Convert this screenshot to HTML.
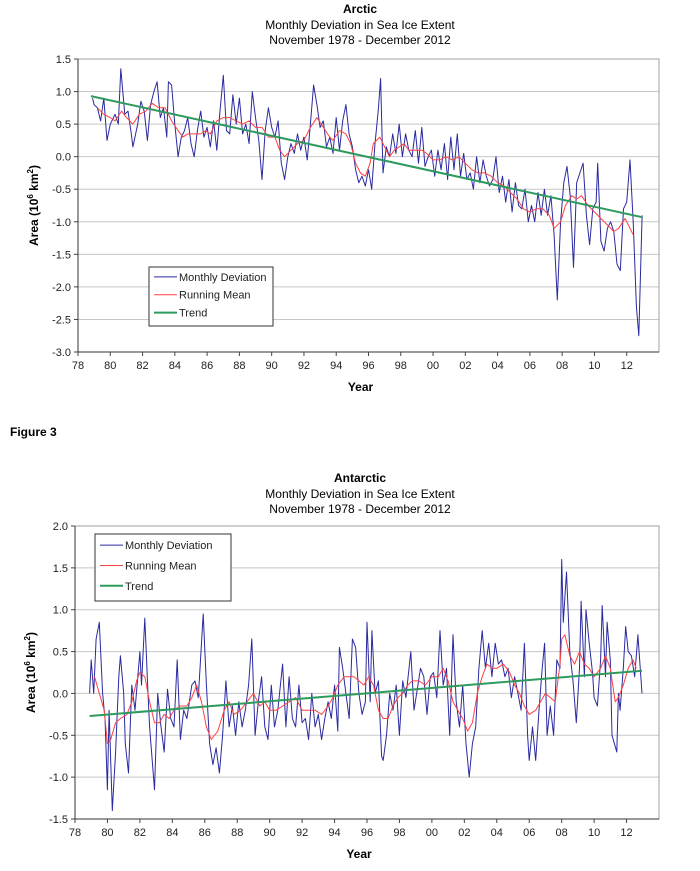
<!DOCTYPE html>
<html><head><meta charset="utf-8"><style>
html,body{margin:0;padding:0;background:#fff;}
svg{display:block;font-family:"Liberation Sans",Arial,sans-serif;}
</style></head><body>
<svg id="svg" width="700" height="871" viewBox="0 0 700 871"></svg>
<script>
// ---- Arctic data (years since 1900) ----
const arcticMonthlyYears=[78.9,79.0,79.2,79.4,79.6,79.8,80.0,80.3,80.5,80.65,80.9,81.1,81.3,81.4,81.7,81.9,82.1,82.3,82.5,82.7,82.9,83.1,83.3,83.5,83.6,83.8,84.0,84.2,84.4,84.6,84.8,85.0,85.2,85.4,85.6,85.8,86.0,86.2,86.4,86.6,86.8,87.0,87.2,87.4,87.6,87.8,88.0,88.2,88.4,88.6,88.8,89.0,89.2,89.4,89.6,89.8,90.0,90.2,90.4,90.6,90.8,91.0,91.2,91.4,91.6,91.8,92.0,92.2,92.4,92.6,92.8,93.0,93.2,93.4,93.6,93.8,94.0,94.2,94.4,94.6,94.8,95.0,95.2,95.4,95.6,95.8,96.0,96.2,96.4,96.6,96.75,96.9,97.1,97.3,97.5,97.7,97.9,98.1,98.3,98.5,98.7,98.9,99.1,99.3,99.5,99.7,99.9,100.1,100.3,100.5,100.7,100.9,101.1,101.3,101.5,101.7,101.9,102.1,102.3,102.5,102.7,102.9,103.1,103.3,103.5,103.7,103.9,104.1,104.3,104.5,104.7,104.9,105.1,105.3,105.5,105.7,105.9,106.1,106.3,106.5,106.7,106.9,107.1,107.3,107.5,107.7,107.9,108.1,108.3,108.5,108.7,108.9,109.1,109.3,109.5,109.7,109.9,110.1,110.2,110.4,110.6,110.8,111.0,111.2,111.4,111.6,111.8,112.0,112.2,112.4,112.6,112.75,112.95];
const arcticMonthlyValues=[0.9,0.8,0.75,0.55,0.9,0.25,0.5,0.65,0.5,1.35,0.65,0.7,0.35,0.15,0.5,0.85,0.7,0.25,0.8,1.0,1.15,0.6,0.75,0.3,1.15,1.1,0.5,0.0,0.3,0.4,0.6,0.2,0.0,0.4,0.7,0.3,0.45,0.15,0.55,0.1,0.7,1.25,0.4,0.35,0.95,0.5,0.9,0.35,0.5,0.2,1.0,0.6,0.25,-0.35,0.4,0.75,0.45,0.3,0.55,-0.1,-0.35,0.0,0.2,0.05,0.35,0.1,0.3,-0.05,0.5,1.1,0.8,0.45,0.55,0.15,0.3,0.05,0.6,0.1,0.55,0.8,0.35,0.15,-0.2,-0.4,-0.3,-0.45,-0.2,-0.5,0.2,0.7,1.2,-0.25,0.15,0.0,0.35,0.05,0.5,0.0,0.35,0.1,0.0,0.4,-0.1,0.45,-0.15,0.0,0.1,-0.3,0.1,-0.2,0.2,-0.35,0.3,-0.2,0.35,-0.3,0.05,-0.35,-0.25,-0.5,0.0,-0.4,-0.05,-0.3,-0.45,-0.35,0.0,-0.55,-0.3,-0.7,-0.35,-0.85,-0.4,-0.75,-0.8,-0.5,-1.0,-0.75,-1.0,-0.55,-0.9,-0.5,-0.9,-0.6,-1.2,-2.2,-1.0,-0.4,-0.15,-0.6,-1.7,-0.4,-0.25,-0.1,-0.9,-1.35,-0.8,-0.7,-0.1,-1.3,-1.45,-1.1,-1.0,-1.15,-1.65,-1.75,-0.8,-0.7,-0.05,-1.0,-2.3,-2.75,-0.9];
const arcticMeanYears=[79.2,79.6,80.0,80.3,80.7,81.0,81.4,81.8,82.2,82.6,83.0,83.4,83.8,84.2,84.5,84.8,85.2,85.6,85.9,86.2,86.6,87.0,87.4,87.8,88.2,88.6,89.0,89.4,89.8,90.2,90.5,90.8,91.2,91.6,92.0,92.4,92.8,93.2,93.6,93.8,94.2,94.6,94.9,95.2,95.5,95.8,96.1,96.3,96.7,97.0,97.3,97.6,97.9,98.2,98.5,98.9,99.3,99.6,100.0,100.4,100.8,101.2,101.6,102.0,102.4,102.8,103.2,103.6,104.0,104.4,104.8,105.2,105.6,106.0,106.4,106.8,107.2,107.5,107.9,108.2,108.6,108.9,109.2,109.6,110.0,110.4,110.8,111.2,111.5,111.9,112.4];
const arcticMeanValues=[0.75,0.65,0.6,0.55,0.7,0.6,0.5,0.65,0.7,0.82,0.75,0.75,0.55,0.4,0.3,0.35,0.35,0.35,0.4,0.35,0.55,0.6,0.6,0.55,0.5,0.55,0.45,0.45,0.3,0.3,0.1,0.0,0.1,0.2,0.25,0.45,0.6,0.45,0.3,0.25,0.4,0.35,0.2,-0.1,-0.25,-0.3,-0.1,0.2,0.3,0.15,0.0,0.1,0.15,0.2,0.1,0.1,0.1,0.05,-0.05,-0.05,0.0,-0.05,0.0,-0.1,-0.2,-0.25,-0.25,-0.3,-0.4,-0.45,-0.55,-0.65,-0.8,-0.85,-0.8,-0.8,-0.9,-1.1,-1.0,-0.75,-0.6,-0.65,-0.6,-0.75,-0.85,-0.95,-1.05,-1.15,-1.1,-0.95,-1.2];
const arcticTrendYears=[78.8,112.95];
const arcticTrendValues=[0.93,-0.93];
// ---- Antarctic data ----
const antMonthlyYears=[78.9,79.0,79.15,79.3,79.5,79.7,79.85,80.0,80.1,80.3,80.5,80.7,80.8,81.0,81.1,81.3,81.5,81.7,82.0,82.1,82.3,82.5,82.6,82.9,83.1,83.3,83.5,83.7,83.9,84.1,84.3,84.5,84.7,84.9,85.2,85.4,85.6,85.9,86.1,86.3,86.5,86.7,86.9,87.1,87.3,87.5,87.7,87.9,88.1,88.3,88.5,88.7,88.9,89.1,89.3,89.5,89.7,89.9,90.1,90.3,90.5,90.8,91.0,91.2,91.4,91.6,91.8,92.0,92.2,92.4,92.6,92.8,93.0,93.2,93.4,93.6,93.8,94.0,94.2,94.3,94.5,94.7,94.9,95.1,95.3,95.5,95.7,95.9,96.0,96.2,96.3,96.5,96.7,96.9,97.0,97.2,97.4,97.6,97.8,98.0,98.2,98.4,98.7,98.9,99.1,99.3,99.5,99.7,99.9,100.1,100.3,100.5,100.7,100.9,101.1,101.3,101.5,101.7,101.9,102.1,102.3,102.5,102.7,102.9,103.1,103.3,103.5,103.7,103.9,104.1,104.3,104.5,104.7,104.9,105.1,105.3,105.5,105.7,105.9,106.0,106.2,106.4,106.6,106.8,106.95,107.1,107.3,107.5,107.7,107.9,108.0,108.1,108.3,108.5,108.7,108.9,109.1,109.2,109.4,109.5,109.7,109.9,110.0,110.2,110.4,110.5,110.7,110.8,111.0,111.1,111.4,111.5,111.6,111.8,111.95,112.1,112.3,112.5,112.7,112.95];
const antMonthlyValues=[0.0,0.4,0.0,0.65,0.85,0.0,-0.3,-1.15,-0.2,-1.4,-0.7,0.2,0.45,0.0,-0.6,-0.95,0.1,-0.2,0.5,0.1,0.9,0.0,-0.4,-1.15,0.0,-0.4,-0.7,0.05,-0.3,-0.4,0.4,-0.55,-0.2,-0.3,0.1,0.15,-0.05,0.95,0.1,-0.6,-0.85,-0.65,-0.95,-0.5,0.15,-0.4,-0.15,-0.5,-0.1,-0.4,-0.2,0.1,0.65,-0.5,-0.1,0.2,-0.4,-0.55,0.1,-0.4,-0.2,0.35,-0.4,0.2,-0.3,-0.4,0.1,-0.35,-0.3,-0.55,0.0,-0.4,-0.25,-0.55,-0.3,-0.1,-0.3,0.1,-0.45,0.55,0.3,0.0,-0.3,0.65,0.55,0.0,-0.25,-0.1,0.85,-0.1,0.75,0.0,0.15,-0.75,-0.8,-0.5,0.0,-0.2,0.1,-0.5,0.15,-0.05,0.5,-0.2,0.05,0.3,0.2,-0.25,0.2,0.25,-0.05,0.75,0.1,0.3,-0.5,0.7,-0.1,-0.4,0.1,-0.6,-1.0,-0.6,-0.4,0.3,0.75,0.3,0.6,0.2,0.6,0.35,0.4,0.2,0.3,-0.05,0.2,0.0,-0.2,0.6,-0.5,-0.8,-0.4,-0.8,-0.2,0.3,0.6,-0.5,-0.15,-0.5,0.4,0.3,1.6,0.85,1.45,0.5,0.15,-0.35,0.3,1.1,0.2,1.0,0.6,0.25,-0.05,-0.15,0.4,1.05,0.2,0.85,0.4,-0.5,-0.7,0.0,-0.2,0.3,0.8,0.5,0.45,0.2,0.7,0.0];
const antMeanYears=[79.2,79.5,79.8,80.0,80.2,80.5,80.8,81.2,81.5,81.8,82.0,82.3,82.6,82.9,83.2,83.5,83.8,84.1,84.5,84.9,85.2,85.5,85.8,86.1,86.4,86.8,87.2,87.5,87.8,88.2,88.6,89.0,89.4,89.7,90.0,90.4,90.8,91.2,91.6,92.0,92.4,92.8,93.2,93.6,93.9,94.2,94.6,94.9,95.2,95.5,95.8,96.1,96.4,96.7,97.0,97.3,97.6,97.9,98.2,98.5,98.8,99.2,99.6,100.0,100.4,100.7,101.0,101.3,101.6,101.9,102.2,102.5,102.8,103.1,103.4,103.7,104.0,104.4,104.8,105.1,105.4,105.7,106.0,106.4,106.7,107.0,107.3,107.6,107.9,108.0,108.2,108.5,108.8,109.1,109.4,109.7,110.0,110.4,110.7,111.0,111.3,111.5,111.8,112.1,112.4,112.6];
const antMeanValues=[0.2,0.0,-0.2,-0.6,-0.55,-0.35,-0.3,-0.25,-0.1,0.15,0.25,0.2,-0.1,-0.35,-0.35,-0.25,-0.3,-0.2,-0.15,-0.15,-0.05,0.1,-0.1,-0.4,-0.55,-0.45,-0.2,-0.1,-0.25,-0.2,-0.1,0.0,-0.15,-0.1,-0.2,-0.2,-0.15,-0.1,-0.05,-0.2,-0.2,-0.2,-0.25,-0.15,-0.05,0.1,0.2,0.2,0.2,0.15,0.1,0.2,0.1,-0.2,-0.3,-0.3,-0.15,-0.05,0.0,0.1,0.15,0.15,0.1,0.2,0.2,0.3,0.15,-0.1,-0.2,-0.3,-0.45,-0.35,0.0,0.2,0.35,0.3,0.3,0.35,0.25,0.1,0.0,-0.15,-0.25,-0.2,-0.1,0.0,-0.05,-0.1,0.35,0.65,0.7,0.45,0.35,0.5,0.35,0.3,0.2,0.3,0.45,0.3,-0.1,-0.05,0.1,0.3,0.4,0.3];
const antTrendYears=[78.9,112.95];
const antTrendValues=[-0.27,0.27];
const xTickLabels=["78","80","82","84","86","88","90","92","94","96","98","00","02","04","06","08","10","12"];
const arcticYTicks=[1.5,1.0,0.5,0.0,-0.5,-1.0,-1.5,-2.0,-2.5,-3.0];
const antYTicks=[2.0,1.5,1.0,0.5,0.0,-0.5,-1.0,-1.5];

const NS="http://www.w3.org/2000/svg";
const svg=document.getElementById('svg');
function mk(tag,attrs,parent,text){const e=document.createElementNS(NS,tag);for(const k in attrs)e.setAttribute(k,attrs[k]);if(text!==undefined)e.textContent=text;(parent||svg).appendChild(e);return e;}

function chart(cfg){
  const g=mk('g',{});
  
  
  const L=cfg.left,R=cfg.right,T=cfg.top,B=cfg.bottom;
  const xs=y=>L+(y-78)/36*(R-L);
  const ys=v=>T+(cfg.ymax-v)/(cfg.ymax-cfg.ymin)*(B-T);
  // titles
  const t1=mk('text',{x:360,y:cfg.titleY,'text-anchor':'middle','font-size':12,'font-weight':'bold',fill:'#000'},g,cfg.title);
  
  
  const t2=mk('text',{x:360,y:cfg.titleY+16,'text-anchor':'middle','font-size':12,fill:'#000'},g,'Monthly Deviation in Sea Ice Extent');
  
  
  const t3=mk('text',{x:360,y:cfg.titleY+31,'text-anchor':'middle','font-size':12,fill:'#000'},g,'November 1978 - December 2012');
  
  
  // grid
  cfg.yticks.forEach(v=>{
    const y=ys(v);
    const gl=mk('line',{x1:L,x2:R,y1:y,y2:y,stroke:'#c8c8c8','stroke-width':1},g);
    
    
    mk('line',{x1:L-4,x2:L,y1:y,y2:y,stroke:'#444'},g);
    const tl=mk('text',{x:L-7,y:y+4,'text-anchor':'end','font-size':11,fill:'#222'},g,v.toFixed(1));
    
    
  });
  mk('rect',{x:L,y:T,width:R-L,height:B-T,fill:'none',stroke:'#a0a0a0'},g);
  mk('line',{x1:L,x2:L,y1:T,y2:B,stroke:'#333'},g);
  mk('line',{x1:L,x2:R,y1:B,y2:B,stroke:'#333'},g);
  xTickLabels.forEach((s,i)=>{
    const x=xs(78+2*i);
    mk('line',{x1:x,x2:x,y1:B,y2:B+4,stroke:'#444'},g);
    const tl=mk('text',{x:x,y:B+17,'text-anchor':'middle','font-size':11,fill:'#222'},g,s);
    
    
  });
  const xt=mk('text',{x:(L+R)/2-8,y:B+39,'text-anchor':'middle','font-size':12,'font-weight':'bold'},g,'Year');
  
  
  const cy=(T+B)/2;
  const yt=mk('text',{x:0,y:0,transform:`translate(${L-40},${cy}) rotate(-90)`,'text-anchor':'middle','font-size':12,'font-weight':'bold'},g);
  
  
  yt.appendChild(document.createTextNode('Area (10'));
  mk('tspan',{'font-size':8,dy:-5},yt,'6');
  mk('tspan',{dy:5},yt,' km');
  mk('tspan',{'font-size':8,dy:-5},yt,'2');
  mk('tspan',{dy:5},yt,')');
  function line(xsA,vsA,color,w,name){
    const d=xsA.map((x,i)=>(i?'L':'M')+xs(x).toFixed(1)+' '+ys(vsA[i]).toFixed(1)).join(' ');
    const p=mk('path',{d:d,fill:'none',stroke:color,'stroke-width':w,'stroke-linejoin':'round'},g);
    
    
  }
  line(cfg.my,cfg.mv,'#2a2aa0',1,'monthly-deviation-line');
  line(cfg.ry,cfg.rv,'#ff4040',1,'running-mean-line');
  line(cfg.ty,cfg.tv,'#2e9a5e',2,'trend-line');
  // legend
  const lg=mk('g',{},g);
  
  
  const lx=cfg.legend[0],ly=cfg.legend[1],lw=cfg.legend[2],lh=cfg.legend[3];
  mk('rect',{x:lx,y:ly,width:lw,height:lh,fill:'#fff',stroke:'#333','stroke-width':1},lg);
  [['Monthly Deviation','#2a2aa0',1],['Running Mean','#ff4040',1],['Trend','#2e9a5e',2]].forEach((e,i)=>{
    const yy=ly+lh/6+i*lh/3.3;
    const ent=mk('g',{},lg);
    
    
    mk('line',{x1:lx+5,x2:lx+28,y1:yy,y2:yy,stroke:e[1],'stroke-width':e[2]},ent);
    mk('text',{x:lx+30,y:yy+4,'font-size':11,fill:'#222'},ent,e[0]);
  });
}
chart({name:'arctic-chart',title:'Arctic',titleY:13,left:78,right:659,top:59,bottom:352,ymax:1.5,ymin:-3.0,yticks:arcticYTicks,
  my:arcticMonthlyYears,mv:arcticMonthlyValues,ry:arcticMeanYears,rv:arcticMeanValues,ty:arcticTrendYears,tv:arcticTrendValues,legend:[149,267,124,59]});
chart({name:'antarctic-chart',title:'Antarctic',titleY:482,left:75,right:659,top:526,bottom:819,ymax:2.0,ymin:-1.5,yticks:antYTicks,
  my:antMonthlyYears,mv:antMonthlyValues,ry:antMeanYears,rv:antMeanValues,ty:antTrendYears,tv:antTrendValues,legend:[95,534,136,67]});
const fig=mk('text',{x:10,y:436,'font-size':12,'font-weight':'bold'},svg,'Figure 3');


</script>
</body></html>
